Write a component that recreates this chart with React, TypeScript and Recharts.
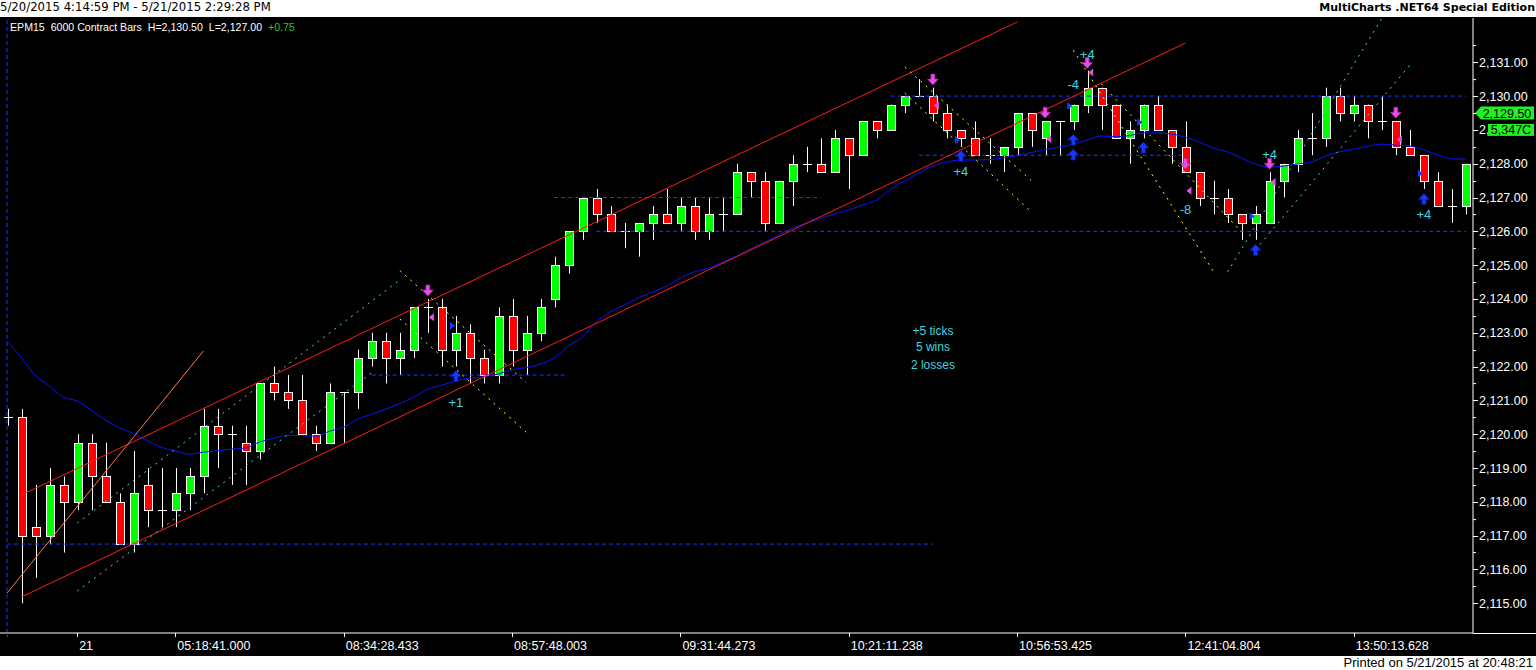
import React from "react";
import { ComposedChart, Bar, Line, XAxis, YAxis, ReferenceLine, ReferenceDot } from "recharts";

// OHLC per 6000-contract bar (EPM15)
const open = [
  2120.5, 2120.5, 2117.25, 2117, 2118.5, 2118, 2119.75, 2118.75, 2118, 2116.75,
  2118.5, 2117.75, 2117.75, 2118.25, 2118.75, 2120.25, 2120, 2119.75, 2119.5, 2121.5,
  2121.25, 2121, 2120, 2119.75, 2121.25, 2121.25, 2122.25, 2122.75, 2122.25, 2122.5,
  2123.75, 2123.75, 2122.5, 2123, 2122.25, 2121.75, 2123.5, 2122.5, 2123, 2124,
  2125, 2126, 2127, 2126.5, 2126, 2126, 2126.25, 2126.5, 2126.25, 2126.75,
  2126, 2126.5, 2126.5, 2127.75, 2127.5, 2126.25, 2127.5, 2128, 2128, 2127.75,
  2128.75, 2128.25, 2129.25, 2129, 2129.75, 2130, 2130, 2129.5, 2129, 2128.75,
  2128.25, 2128.25, 2128.5, 2129.5, 2128.75, 2129.25, 2129.25, 2129.75, 2130.25, 2129.75,
  2128.75, 2129, 2129.75, 2129, 2128.5, 2127.75, 2127, 2127, 2126.5, 2126.25,
  2126.25, 2127.5, 2128, 2128.75, 2128.75, 2130, 2129.5, 2129.75, 2129.25, 2129.25,
  2128.5, 2128.25, 2127.5, 2126.75, 2126.75,
];
const high = [
  2120.75, 2120.75, 2118.5, 2119, 2118.75, 2120, 2120, 2119.75, 2118.25, 2119.5,
  2119, 2119, 2119, 2119, 2120.75, 2120.75, 2120.25, 2120.25, 2121.5, 2122,
  2121.75, 2121.75, 2120.25, 2121.5, 2121.25, 2122.5, 2123, 2123, 2123, 2123.75,
  2124, 2124, 2123.5, 2123.25, 2122.5, 2123.75, 2124, 2123.5, 2124, 2125.25,
  2126, 2127, 2127.25, 2126.75, 2126.25, 2126.25, 2126.75, 2127.25, 2127, 2127,
  2127, 2127, 2128, 2127.75, 2127.75, 2127.5, 2128.25, 2128.5, 2128.75, 2129,
  2128.75, 2129.25, 2129.25, 2129.75, 2130, 2130.5, 2130.25, 2129.75, 2129, 2129.25,
  2128.75, 2128.5, 2129.5, 2129.5, 2129.25, 2129.25, 2129.75, 2130.75, 2130.25, 2129.75,
  2129.25, 2129.75, 2130, 2129, 2129.25, 2127.75, 2127.5, 2127.25, 2126.5, 2126.75,
  2127.75, 2128, 2129, 2129.5, 2130.25, 2130.25, 2130, 2129.75, 2130, 2129.25,
  2129, 2128.25, 2127.75, 2127.25, 2128,
];
const low = [
  2120.25, 2115, 2115.75, 2116.75, 2116.5, 2117.75, 2117.75, 2118, 2116.75, 2116.5,
  2117.25, 2117.25, 2117.25, 2117.75, 2118.25, 2119, 2118.5, 2118.5, 2119.25, 2121,
  2120.75, 2120, 2119.5, 2119.75, 2119.75, 2120.75, 2122, 2121.5, 2121.75, 2122.25,
  2123, 2122, 2122, 2121.5, 2121.5, 2121.5, 2122, 2121.75, 2122.75, 2123.75,
  2124.75, 2125.75, 2126.25, 2126, 2125.5, 2125.25, 2125.75, 2126.25, 2126, 2125.75,
  2125.75, 2126, 2126.5, 2127, 2126, 2126.25, 2126.75, 2127.75, 2127.75, 2127.75,
  2127.25, 2128.25, 2128.75, 2129, 2129.5, 2130, 2129.25, 2128.75, 2128.5, 2128.25,
  2128, 2127.75, 2128.25, 2128.5, 2128.25, 2128.25, 2129, 2129.5, 2129, 2128.75,
  2128, 2128.75, 2129, 2128, 2127.75, 2126.75, 2126.5, 2126.25, 2125.75, 2125.75,
  2126.25, 2127, 2127.75, 2128.25, 2128.5, 2129.25, 2129.25, 2128.75, 2129, 2128.25,
  2128.25, 2127.25, 2126.75, 2126.25, 2126.5,
];
const close = [
  2120.5, 2117, 2117, 2118.5, 2118, 2119.75, 2118.75, 2118, 2116.75, 2118.25,
  2117.75, 2117.75, 2118.25, 2118.75, 2120.25, 2120, 2120, 2119.5, 2121.5, 2121.25,
  2121, 2120, 2119.75, 2121.25, 2121.25, 2122.25, 2122.75, 2122.25, 2122.5, 2123.75,
  2123.75, 2122.5, 2123, 2122.25, 2121.75, 2123.5, 2122.5, 2123, 2123.75, 2125,
  2126, 2127, 2126.5, 2126, 2126, 2126.25, 2126.5, 2126.25, 2126.75, 2126,
  2126.5, 2126.5, 2127.75, 2127.5, 2126.25, 2127.5, 2128, 2128, 2127.75, 2128.75,
  2128.25, 2129.25, 2129, 2129.75, 2130, 2130, 2129.5, 2129, 2128.75, 2128.25,
  2128.25, 2128.5, 2129.5, 2129, 2129.25, 2129.25, 2129.75, 2130.25, 2129.75, 2128.75,
  2129, 2129.75, 2129, 2128.5, 2127.75, 2127, 2127, 2126.5, 2126.25, 2126.5,
  2127.5, 2128, 2128.75, 2128.75, 2130, 2129.5, 2129.75, 2129.25, 2129.25, 2128.5,
  2128.25, 2127.5, 2126.75, 2126.75, 2128,
];
// blue moving average
const ma = [
  2122.75, 2122.28, 2121.75, 2121.43, 2121.1, 2120.98, 2120.71, 2120.42, 2120.2, 2120.02,
  2119.81, 2119.61, 2119.5, 2119.41, 2119.47, 2119.51, 2119.56, 2119.59, 2119.77, 2119.88,
  2119.97, 2119.96, 2119.94, 2120.09, 2120.21, 2120.45, 2120.59, 2120.74, 2120.91, 2121.1,
  2121.33, 2121.45, 2121.57, 2121.66, 2121.7, 2121.78, 2121.91, 2121.97, 2122.07, 2122.25,
  2122.6, 2122.87, 2123.32, 2123.61, 2123.82, 2124.03, 2124.2, 2124.38, 2124.62, 2124.8,
  2124.91, 2125.09, 2125.27, 2125.48, 2125.68, 2125.89, 2126.1, 2126.25, 2126.38, 2126.51,
  2126.63, 2126.78, 2126.93, 2127.25, 2127.49, 2127.72, 2127.93, 2128.05, 2128.11, 2128.11,
  2128.12, 2128.17, 2128.24, 2128.33, 2128.42, 2128.49, 2128.58, 2128.7, 2128.82, 2128.8,
  2128.83, 2128.91, 2128.91, 2128.88, 2128.78, 2128.64, 2128.46, 2128.35, 2128.17, 2127.99,
  2127.9, 2127.93, 2127.99, 2128.05, 2128.23, 2128.35, 2128.43, 2128.52, 2128.58, 2128.55,
  2128.52, 2128.41, 2128.26, 2128.14, 2128.14,
];

// time axis
const timeTickBars = [0, 5, 12, 24, 36, 48, 60, 72, 84, 96];
const timeTickLabels = ["", "21", "05:18:41.000", "08:34:28.433", "08:57:48.003", "09:31:44.273",
  "10:21:11.238", "10:56:53.425", "12:41:04.804", "13:50:13.628"];
const priceTicks = [2115, 2116, 2117, 2118, 2119, 2120, 2121, 2122, 2123, 2124, 2125, 2126, 2127, 2128, 2129, 2130, 2131];

// drawings: [startBar, endBar] and [startPrice, endPrice]
const channelBars = [[1, 84], [1, 72]];
const channelPrices = [[2115.18, 2131.57], [2118.2, 2132.19]];
const orangeBars = [0, 14];
const orangePrices = [2115.3, 2122.46];
const cyanBars = [[5, 28], [5, 26], [87, 98], [89, 100]];
const cyanPrices = [[2117.37, 2124.56], [2115.36, 2121.82], [2124.8, 2132.3], [2125.45, 2130.92]];
const yellowBars = [[28, 37], [28, 37], [64, 73], [64, 73], [76, 86], [78, 88]];
const yellowPrices = [[2124.84, 2121.53], [2123.41, 2120.06], [2130.86, 2127.51], [2130.09, 2126.58], [2131.36, 2124.81], [2130.36, 2125.98]];
const levelPrices = [2116.75, 2121.75, 2127, 2126, 2130, 2128.25];
const levelBars = [[0, 66], [26, 40], [39, 58], [42, 104], [63, 104], [65, 84]];

// strategy markers
const sellBars = [30, 66, 74, 77, 84, 90, 99];
const sellPrices = [2124.25, 2130.49, 2129.51, 2130.98, 2128.0, 2128.0, 2129.51];
const buyBars = [32, 68, 76, 76, 81, 89, 101];
const buyPrices = [2121.72, 2128.23, 2128.71, 2128.27, 2128.48, 2125.45, 2126.96];
const exitShortBars = [30, 66, 74, 77, 84, 90, 99];
const exitShortPrices = [2123.46, 2129.72, 2128.73, 2130.7, 2127.2, 2127.46, 2128.72];
const exitLongBars = [32, 68, 76, 81, 89, 101];
const exitLongPrices = [2123.21, 2128.71, 2129.71, 2129.23, 2126.45, 2127.71];
const pnlBars = [32, 68, 76, 77, 84, 90, 101];
const pnlPrices = [2120.94, 2127.77, 2130.36, 2131.25, 2126.64, 2128.29, 2126.49];
const pnlTexts = ["+1", "+4", "-4", "+4", "-8", "+4", "+4"];
const summaryTexts = ["+5 ticks", "5 wins", "2 losses"];
const summaryPrices = [2123.05, 2122.58, 2122.07];
const summaryBar = 66;

const lastPrice = 2129.5;
const volumePrice = 2129;
const volumeText = "5,347C";

const FONT = "'Liberation Sans', Arial, sans-serif";
const PINK = "#e84ce2";
const BLUE = "#1638ff";
const AQUA = "#3fd3e0";
const FLAG = "#22f022";

const data = open.map((o, i) => ({ i, open: o, high: high[i], low: low[i], close: close[i], ma: ma[i] }));

const fmtPrice = (v: number) =>
  v.toLocaleString("en-US", { minimumFractionDigits: 2, maximumFractionDigits: 2 });

const Candle = (props: any) => {
  const { x, y, width, height, payload } = props;
  if (!payload) return null;
  const top = Math.min(y, y + height);
  const h = Math.abs(height);
  const span = payload.high - payload.low || 1;
  const py = (p: number) => top + ((payload.high - p) / span) * h;
  const cx = Math.round(x + width / 2);
  const yo = py(payload.open);
  const yc = py(payload.close);
  const wick = <line x1={cx + 0.5} x2={cx + 0.5} y1={top} y2={top + h} stroke="#fff" strokeWidth={1} />;
  if (payload.open === payload.close) {
    const yy = Math.round(yo) + 0.5;
    return (
      <g>
        {wick}
        <line x1={cx - 4} x2={cx + 5} y1={yy} y2={yy} stroke="#fff" strokeWidth={1} />
      </g>
    );
  }
  const up = payload.close > payload.open;
  const bt = Math.round(Math.min(yo, yc)) + 0.5;
  const bb = Math.round(Math.max(yo, yc)) + 0.5;
  return (
    <g>
      {wick}
      <rect x={cx - 3.5} y={bt} width={8} height={bb - bt} fill={up ? "#00ff00" : "#ff0000"} stroke="#fff" strokeWidth={1} />
    </g>
  );
};

const TimeTick = (props: any) => {
  const { x, y, payload } = props;
  const k = timeTickBars.indexOf(payload.value);
  if (k < 0) return <g />;
  const xx = Math.round(x) + 0.5;
  return (
    <g>
      <line x1={xx} x2={xx} y1={y} y2={y + 4} stroke={k === 0 ? BLUE : "#fff"} />
      <text x={x + 2} y={y + 17} fill="#fff" fontSize={12.5} fontFamily={FONT}>
        {timeTickLabels[k]}
      </text>
    </g>
  );
};

// price axis tick; the volume flag covers most of its own label like in MultiCharts
const PriceTick = (props: any) => {
  const { x, y, payload } = props;
  const v = payload.value;
  const yy = Math.round(y) + 0.5;
  const covered = v === volumePrice;
  const label = covered ? fmtPrice(v).slice(0, 2) : fmtPrice(v);
  return (
    <g>
      <line x1={x} x2={x + 5} y1={yy} y2={yy} stroke="#fff" />
      <line x1={x} x2={x + 3} y1={yy - 16.9} y2={yy - 16.9} stroke="#fff" />
      <text x={x + 6} y={y} dy="0.36em" fill="#fff" fontSize={12.5} fontFamily={FONT}>
        {label}
      </text>
      {covered && (
        <g>
          <rect x={x + 15} y={y - 6} width={46} height={12} fill={FLAG} />
          <text x={x + 38} y={y} dy="0.36em" textAnchor="middle" fill="#000" fontSize={12.5} fontFamily={FONT}>
            {volumeText}
          </text>
        </g>
      )}
    </g>
  );
};

const DownArrow = ({ cx, cy }: any) => (
  <path d={`M${cx - 2},${cy - 5.5} h4 v5 h3.5 L${cx},${cy + 5.5} L${cx - 5.5},${cy - 0.5} h3.5 z`} fill={PINK} stroke="#9a2096" strokeWidth={0.7} />
);
const UpArrow = ({ cx, cy }: any) => (
  <path d={`M${cx - 2},${cy + 5.5} h4 v-5 h3.5 L${cx},${cy - 5.5} L${cx - 5.5},${cy + 0.5} h3.5 z`} fill={BLUE} stroke="#0a1a99" strokeWidth={0.7} />
);
const LeftTri = ({ cx, cy }: any) => (
  <path d={`M${cx + 1},${cy} L${cx + 6},${cy - 4} L${cx + 6},${cy + 4} z`} fill={PINK} />
);
const RightTri = ({ cx, cy }: any) => (
  <path d={`M${cx - 1},${cy} L${cx - 6},${cy - 4} L${cx - 6},${cy + 4} z`} fill={BLUE} />
);
const textShape = (t: string, size: number) => ({ cx, cy }: any) => (
  <text x={cx} y={cy} dy="0.36em" textAnchor="middle" fill={AQUA} fontSize={size} fontFamily={FONT}>
    {t}
  </text>
);

const LastPriceFlag = (props: any) => {
  const vb = props.viewBox || {};
  const r = vb.x + vb.width;
  const y = vb.y;
  return (
    <g>
      <path d={`M${r + 2},${y} L${r + 8},${y - 6.5} H${r + 61} V${y + 6.5} H${r + 8} z`} fill={FLAG} />
      <text x={r + 34} y={y} dy="0.36em" textAnchor="middle" fill="#000" fontSize={12.5} fontFamily={FONT}>
        {fmtPrice(lastPrice)}
      </text>
    </g>
  );
};

const segLine = (bars: number[], prices: number[], color: string, dash: string | undefined, key: string) => (
  <ReferenceLine
    key={key}
    segment={[{ x: bars[0], y: prices[0] }, { x: bars[1], y: prices[1] }]}
    stroke={color}
    strokeWidth={1}
    strokeDasharray={dash}
    ifOverflow="visible"
  />
);

export default function App() {
  return (
    <div style={{ position: "absolute", left: 0, top: 0, width: 1536, height: 670, background: "#fff", overflow: "hidden" }}>
      <div style={{ position: "absolute", left: 0, top: 0, height: 17, lineHeight: "15px", fontFamily: "'DejaVu Sans', Verdana, sans-serif", fontSize: 11.7, color: "#000" }}>
        5/20/2015 4:14:59 PM - 5/21/2015 2:29:28 PM
      </div>
      <div style={{ position: "absolute", right: 1, top: 0, height: 17, lineHeight: "15px", fontFamily: "'DejaVu Sans', Verdana, sans-serif", fontSize: 11, fontWeight: "bold", color: "#000" }}>
        MultiCharts .NET64 Special Edition
      </div>
      <div style={{ position: "absolute", left: 0, top: 17, width: 1536, height: 639, background: "#000" }}>
        <ComposedChart width={1536} height={639} data={data} margin={{ top: 1, right: 0, left: 0, bottom: 0 }}>
          <XAxis
            dataKey="i"
            type="category"
            interval={0}
            height={23}
            tickLine={false}
            tickSize={0}
            tickMargin={0}
            axisLine={{ stroke: "#fff" }}
            tick={<TimeTick />}
          />
          <YAxis
            orientation="right"
            width={63}
            type="number"
            domain={[2114.12, 2132.31]}
            allowDataOverflow
            ticks={priceTicks}
            interval={0}
            tickLine={false}
            tickSize={0}
            tickMargin={0}
            axisLine={{ stroke: "#fff" }}
            tick={<PriceTick />}
          />
          <ReferenceLine x={0} stroke={BLUE} strokeDasharray="4 3" />
          <Bar dataKey={(d: any) => [d.low, d.high]} barSize={9} shape={<Candle />} isAnimationActive={false} />
          <Line dataKey="ma" type="monotone" stroke="#0a14ff" strokeWidth={1} dot={false} isAnimationActive={false} />
          {levelPrices.map((p, k) => segLine(levelBars[k], [p, p], BLUE, "4 3", "lv" + k))}
          {channelBars.map((b, k) => segLine(b, channelPrices[k], "#ff1a1a", undefined, "ch" + k))}
          {segLine(orangeBars, orangePrices, "#ff7a3a", undefined, "or")}
          {cyanBars.map((b, k) => segLine(b, cyanPrices[k], "#4ed8c8", "2 5", "cy" + k))}
          {yellowBars.map((b, k) => segLine(b, yellowPrices[k], "#ffff00", "2 5", "ye" + k))}
          {sellBars.map((b, k) => (
            <ReferenceDot key={"s" + k} x={b} y={sellPrices[k]} r={5} ifOverflow="visible" shape={DownArrow} />
          ))}
          {buyBars.map((b, k) => (
            <ReferenceDot key={"b" + k} x={b} y={buyPrices[k]} r={5} ifOverflow="visible" shape={UpArrow} />
          ))}
          {exitShortBars.map((b, k) => (
            <ReferenceDot key={"xs" + k} x={b} y={exitShortPrices[k]} r={4} ifOverflow="visible" shape={LeftTri} />
          ))}
          {exitLongBars.map((b, k) => (
            <ReferenceDot key={"xl" + k} x={b} y={exitLongPrices[k]} r={4} ifOverflow="visible" shape={RightTri} />
          ))}
          {pnlBars.map((b, k) => (
            <ReferenceDot key={"p" + k} x={b} y={pnlPrices[k]} r={1} ifOverflow="visible" shape={textShape(pnlTexts[k], 13)} />
          ))}
          {summaryTexts.map((t, k) => (
            <ReferenceDot key={"sum" + k} x={summaryBar} y={summaryPrices[k]} r={1} ifOverflow="visible" shape={textShape(t, 12)} />
          ))}
          <ReferenceLine y={lastPrice} stroke="none" label={<LastPriceFlag />} />
        </ComposedChart>
      </div>
      <div style={{ position: "absolute", left: 10, top: 20, fontFamily: FONT, fontSize: 10.6, color: "#fff", whiteSpace: "pre", lineHeight: "14px" }}>
        {"EPM15  6000 Contract Bars  H=2,130.50  L=2,127.00  "}
        <span style={{ color: "#22c822" }}>+0.75</span>
      </div>
      <div style={{ position: "absolute", left: 1473, top: 633, width: 63, height: 1, background: "#fff" }} />
      <div style={{ position: "absolute", right: 3, top: 656, lineHeight: "14px", fontFamily: FONT, fontSize: 13, color: "#000" }}>
        Printed on 5/21/2015 at 20:48:21
      </div>
    </div>
  );
}
